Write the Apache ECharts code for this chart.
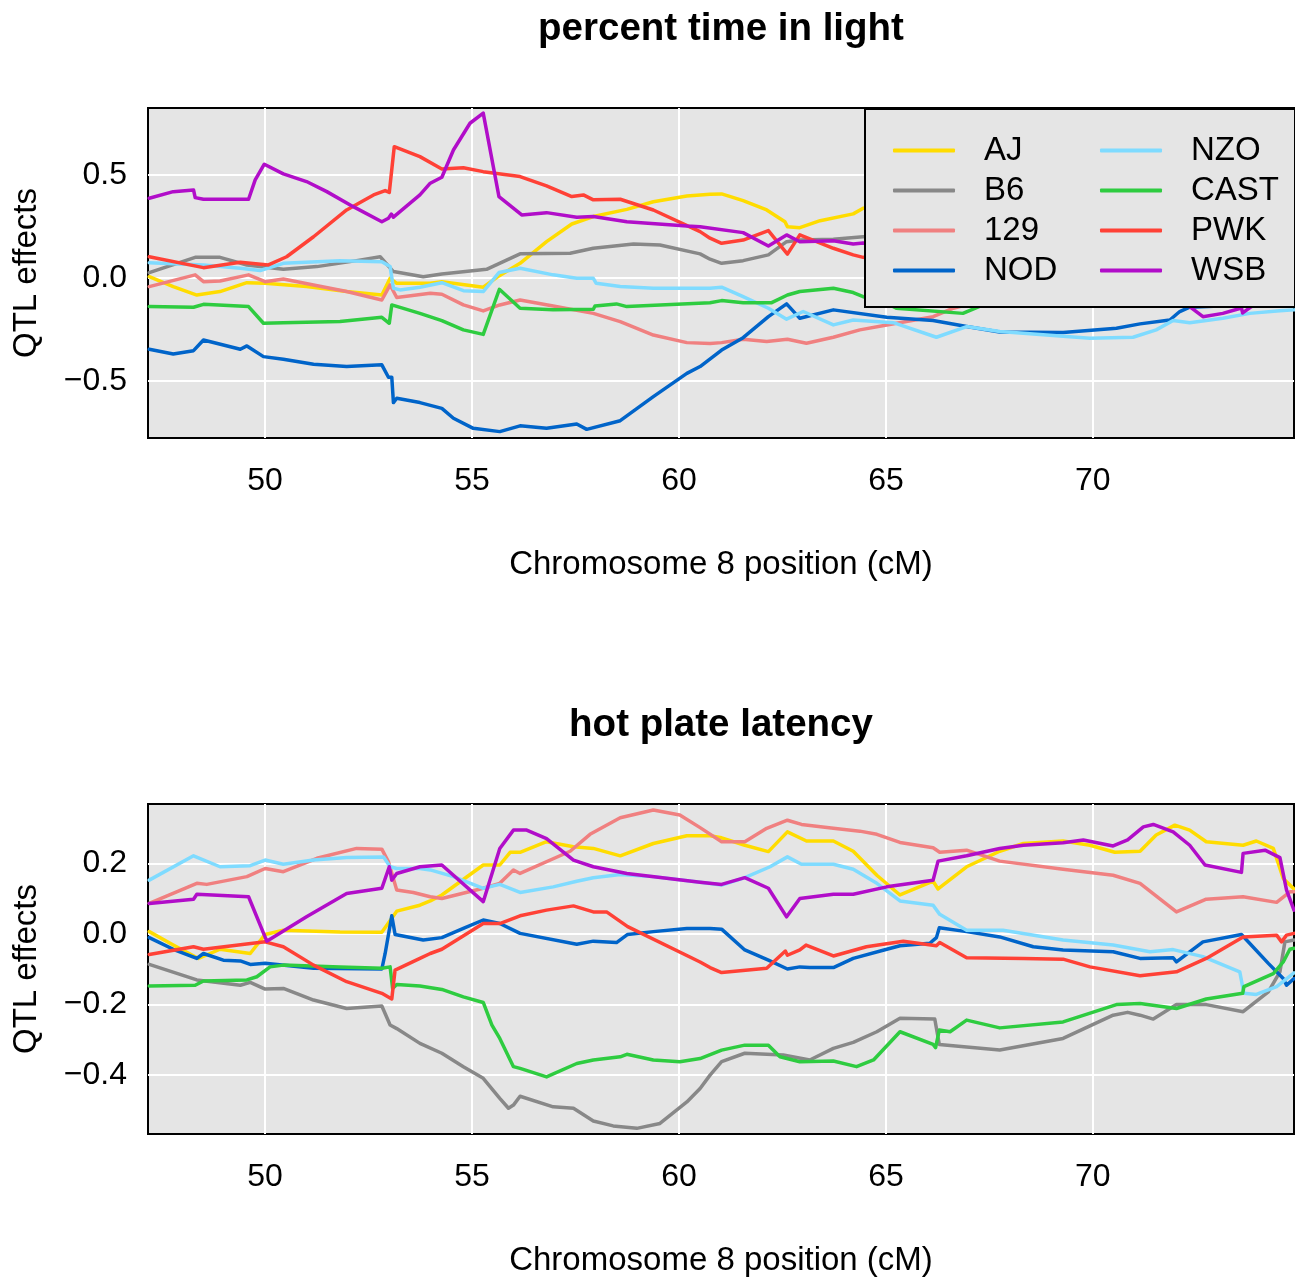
<!DOCTYPE html>
<html>
<head>
<meta charset="utf-8">
<script src="https://cdn.jsdelivr.net/npm/echarts@6/dist/echarts.min.js"></script>
<style>
  html, body { margin: 0; padding: 0; background: #fff; }
  #chart { width: 1295px; height: 1280px; }
</style>
</head>
<body>
<div id="chart"></div>
<script>
// ---------- data (cM, QTL effect) ----------
const strains = ['AJ', 'B6', '129', 'NOD', 'NZO', 'CAST', 'PWK', 'WSB'];
const strainColors = ['#FFDC00', '#888888', '#F08080', '#0064C9', '#7FDBFF', '#2ECC40', '#FF4136', '#B10DC9'];

const panelTitles = ['percent time in light', 'hot plate latency'];
const xTicks = [50, 55, 60, 65, 70];
const yTicksTop = [-0.5, 0, 0.5];
const yTicksBottom = [-0.4, -0.2, 0, 0.2];
const xRange = [47.17, 74.86];
const yRangeTop = [-0.777, 0.825];
const yRangeBottom = [-0.567, 0.369];

// panel 1: percent time in light
const topAJ = [[47.2,0.006],[47.78,-0.042],[48.35,-0.083],[48.91,-0.066],[49.56,-0.023],[50.0,-0.026],[51.0,-0.042],[51.97,-0.066],[52.82,-0.083],[53.02,-0.002],[53.18,-0.026],[53.99,-0.026],[54.27,-0.018],[55.27,-0.045],[55.65,0.01],[56.16,0.071],[56.8,0.176],[57.41,0.262],[57.93,0.298],[58.74,0.333],[59.38,0.37],[60.19,0.398],[60.75,0.406],[61.03,0.408],[61.55,0.375],[62.12,0.33],[62.56,0.273],[62.62,0.249],[62.92,0.244],[63.41,0.278],[64.21,0.311],[64.45,0.338],[65.5,0.37],[67.0,0.36],[68.5,0.3],[70.0,0.25],[71.5,0.22],[73.0,0.2],[74.86,0.18]];
const topB6 = [[47.2,0.026],[48.31,0.1],[48.91,0.1],[49.56,0.063],[50.44,0.042],[51.25,0.055],[52.21,0.084],[52.78,0.103],[53.1,0.031],[53.82,0.006],[54.27,0.019],[55.35,0.042],[56.16,0.117],[57.37,0.12],[57.93,0.144],[58.9,0.165],[59.54,0.16],[60.51,0.117],[60.75,0.091],[61.03,0.071],[61.55,0.084],[62.16,0.112],[62.6,0.176],[62.92,0.184],[63.73,0.188],[64.45,0.2],[66.0,0.21],[68.0,0.17],[70.0,0.12],[72.0,0.08],[74.86,0.05]];
const top129 = [[47.2,-0.042],[48.31,0.015],[48.51,-0.018],[48.91,-0.015],[49.6,0.015],[50.0,-0.018],[50.44,-0.005],[51.17,-0.034],[51.97,-0.066],[52.82,-0.107],[53.02,-0.034],[53.18,-0.095],[53.99,-0.074],[54.27,-0.079],[54.79,-0.131],[55.27,-0.16],[55.67,-0.131],[56.16,-0.107],[56.96,-0.136],[57.93,-0.172],[58.58,-0.212],[59.38,-0.277],[60.19,-0.314],[60.75,-0.318],[61.03,-0.314],[61.55,-0.298],[62.12,-0.309],[62.62,-0.298],[63.08,-0.317],[63.73,-0.288],[64.37,-0.252],[65.02,-0.228],[66.14,-0.188],[66.63,-0.147],[67.5,-0.1],[69.0,-0.06],[71.0,-0.04],[73.0,-0.05],[74.86,-0.06]];
const topNOD = [[47.2,-0.346],[47.78,-0.369],[48.27,-0.353],[48.51,-0.301],[49.4,-0.346],[49.56,-0.33],[49.96,-0.382],[50.44,-0.395],[51.17,-0.419],[51.97,-0.43],[52.82,-0.422],[52.98,-0.482],[53.06,-0.482],[53.1,-0.605],[53.18,-0.584],[53.74,-0.605],[54.27,-0.633],[54.55,-0.681],[55.03,-0.73],[55.67,-0.746],[56.16,-0.718],[56.8,-0.73],[57.53,-0.709],[57.77,-0.735],[58.58,-0.693],[59.38,-0.576],[60.19,-0.463],[60.51,-0.43],[61.03,-0.35],[61.55,-0.29],[62.16,-0.188],[62.6,-0.126],[62.92,-0.196],[63.73,-0.155],[65.02,-0.191],[66.14,-0.207],[66.95,-0.236],[67.75,-0.262],[69.28,-0.265],[70.57,-0.244],[71.14,-0.223],[71.86,-0.204],[72.1,-0.163],[72.34,-0.142],[73.2,-0.135],[74.0,-0.135],[74.57,-0.13],[74.86,-0.128]];
const topNZO = [[47.2,0.074],[48.51,0.063],[49.4,0.047],[49.88,0.036],[50.44,0.071],[51.81,0.083],[52.82,0.079],[53.02,0.055],[53.1,-0.05],[53.26,-0.058],[53.74,-0.045],[54.27,-0.023],[54.79,-0.062],[55.27,-0.066],[55.65,0.026],[56.16,0.047],[56.96,0.015],[57.53,-0.002],[57.93,-0.002],[58.0,-0.026],[58.58,-0.042],[59.38,-0.05],[60.75,-0.05],[61.03,-0.045],[61.55,-0.091],[62.16,-0.147],[62.6,-0.2],[63.0,-0.163],[63.73,-0.228],[64.21,-0.204],[65.18,-0.217],[66.22,-0.288],[66.95,-0.236],[67.75,-0.26],[69.93,-0.293],[70.97,-0.288],[71.53,-0.252],[71.94,-0.207],[72.34,-0.217],[73.14,-0.196],[73.79,-0.172],[74.52,-0.159],[74.86,-0.155]];
const topCAST = [[47.2,-0.139],[48.27,-0.142],[48.51,-0.128],[49.6,-0.139],[49.96,-0.22],[50.44,-0.217],[51.81,-0.212],[52.82,-0.191],[53.0,-0.22],[53.06,-0.131],[53.74,-0.172],[54.27,-0.207],[54.79,-0.252],[55.27,-0.274],[55.66,-0.055],[56.16,-0.147],[56.96,-0.155],[57.93,-0.152],[57.97,-0.136],[58.49,-0.126],[58.74,-0.139],[60.75,-0.12],[61.03,-0.11],[61.55,-0.12],[62.24,-0.12],[62.62,-0.083],[62.92,-0.066],[63.73,-0.05],[64.21,-0.071],[64.45,-0.091],[64.9,-0.11],[65.25,-0.147],[66.86,-0.172],[67.35,-0.131],[68.5,-0.1],[70.0,-0.09],[72.0,-0.08],[74.86,-0.06]];
const topPWK = [[47.2,0.103],[48.51,0.05],[49.4,0.076],[50.08,0.063],[50.52,0.103],[51.17,0.2],[51.97,0.33],[52.62,0.403],[52.9,0.424],[53.0,0.415],[53.12,0.637],[53.74,0.589],[54.27,0.529],[54.79,0.535],[55.27,0.516],[56.16,0.492],[56.8,0.447],[57.41,0.395],[57.69,0.403],[57.93,0.379],[58.58,0.382],[59.38,0.33],[60.51,0.225],[60.75,0.193],[61.03,0.168],[61.55,0.184],[62.16,0.23],[62.62,0.116],[62.92,0.209],[63.73,0.144],[64.21,0.112],[64.45,0.1],[66.0,0.06],[68.0,0.02],[70.0,0.0],[72.0,0.02],[74.86,0.05]];
const topWSB = [[47.2,0.387],[47.78,0.419],[48.27,0.427],[48.31,0.39],[48.51,0.382],[49.6,0.382],[49.76,0.476],[49.98,0.552],[50.44,0.505],[51.0,0.468],[51.49,0.419],[52.13,0.346],[52.82,0.273],[52.98,0.29],[53.05,0.31],[53.1,0.295],[53.74,0.403],[53.99,0.46],[54.27,0.489],[54.55,0.621],[54.95,0.751],[55.27,0.8],[55.65,0.395],[56.2,0.306],[56.8,0.317],[57.53,0.295],[57.93,0.298],[58.74,0.273],[60.19,0.252],[60.51,0.249],[61.55,0.22],[62.16,0.155],[62.6,0.209],[62.92,0.176],[63.73,0.181],[64.21,0.165],[64.45,0.17],[66.0,0.12],[68.0,0.06],[70.0,0.0],[71.5,-0.06],[72.34,-0.139],[72.66,-0.188],[73.14,-0.172],[73.59,-0.146],[73.62,-0.17],[73.83,-0.139],[74.3,-0.12],[74.86,-0.1]];

// panel 2: hot plate latency
const botAJ = [[47.2,0.007],[47.78,-0.031],[48.39,-0.069],[48.91,-0.043],[49.64,-0.055],[50.0,-0.001],[50.44,0.011],[51.81,0.006],[52.82,0.005],[53.18,0.065],[53.74,0.082],[53.99,0.094],[54.27,0.111],[55.27,0.196],[55.67,0.196],[55.92,0.232],[56.16,0.232],[56.8,0.262],[57.45,0.248],[57.93,0.243],[58.58,0.222],[59.38,0.257],[60.19,0.279],[60.75,0.279],[61.03,0.273],[61.59,0.252],[62.16,0.234],[62.62,0.29],[63.08,0.264],[63.73,0.264],[64.21,0.235],[64.78,0.167],[65.34,0.111],[66.14,0.15],[66.26,0.128],[66.95,0.191],[67.75,0.235],[68.32,0.257],[69.28,0.264],[69.93,0.252],[70.53,0.232],[71.14,0.235],[71.53,0.281],[71.98,0.309],[72.34,0.295],[72.74,0.262],[73.63,0.252],[73.95,0.264],[74.36,0.243],[74.6,0.158],[74.86,0.128]];
const botB6 = [[47.2,-0.086],[48.35,-0.13],[49.4,-0.145],[49.64,-0.137],[50.0,-0.156],[50.44,-0.154],[51.17,-0.187],[51.97,-0.211],[52.82,-0.204],[53.02,-0.258],[53.18,-0.268],[53.74,-0.31],[54.27,-0.338],[54.79,-0.376],[55.27,-0.409],[55.67,-0.466],[55.88,-0.494],[56.0,-0.485],[56.16,-0.46],[56.96,-0.49],[57.45,-0.494],[57.93,-0.53],[58.41,-0.544],[58.98,-0.551],[59.54,-0.537],[60.19,-0.476],[60.51,-0.438],[60.75,-0.4],[61.03,-0.362],[61.59,-0.338],[62.52,-0.343],[63.16,-0.357],[63.73,-0.324],[64.21,-0.307],[64.78,-0.277],[65.34,-0.239],[66.18,-0.241],[66.29,-0.313],[66.95,-0.32],[67.75,-0.329],[69.28,-0.296],[70.49,-0.23],[70.84,-0.222],[71.14,-0.23],[71.46,-0.241],[72.02,-0.2],[72.74,-0.2],[73.63,-0.22],[74.24,-0.164],[74.52,-0.107],[74.64,-0.022],[74.86,-0.017]];
const bot129 = [[47.2,0.087],[48.35,0.144],[48.59,0.141],[49.56,0.163],[50.0,0.186],[50.44,0.177],[51.25,0.215],[52.21,0.243],[52.82,0.241],[52.98,0.205],[53.18,0.125],[53.58,0.118],[53.99,0.106],[54.27,0.101],[55.27,0.13],[55.67,0.144],[56.0,0.182],[56.16,0.172],[57.37,0.235],[57.85,0.283],[58.58,0.33],[59.38,0.352],[60.02,0.338],[60.51,0.302],[61.03,0.262],[61.59,0.262],[62.12,0.3],[62.62,0.323],[62.96,0.311],[63.73,0.3],[64.37,0.292],[64.78,0.283],[65.34,0.26],[66.14,0.245],[66.3,0.232],[66.95,0.238],[67.75,0.207],[69.28,0.184],[70.49,0.167],[71.14,0.144],[72.02,0.063],[72.74,0.099],[73.63,0.106],[74.44,0.09],[74.76,0.12],[74.86,0.12]];
const botNOD = [[47.2,-0.01],[47.78,-0.043],[48.35,-0.069],[48.51,-0.055],[48.99,-0.074],[49.4,-0.076],[49.64,-0.086],[50.0,-0.083],[51.17,-0.097],[52.82,-0.099],[52.9,-0.055],[53.06,0.052],[53.14,-0.001],[53.82,-0.017],[54.27,-0.01],[54.79,0.016],[55.27,0.04],[55.67,0.03],[56.16,0.002],[57.53,-0.029],[57.93,-0.02],[58.49,-0.024],[58.76,-0.001],[59.38,0.007],[60.19,0.016],[60.75,0.016],[61.03,0.014],[61.59,-0.045],[62.16,-0.074],[62.62,-0.099],[62.92,-0.093],[63.16,-0.095],[63.73,-0.095],[64.21,-0.069],[65.02,-0.043],[65.34,-0.033],[66.06,-0.026],[66.22,-0.01],[66.29,0.018],[66.95,0.007],[67.75,-0.008],[68.56,-0.036],[69.28,-0.045],[70.49,-0.05],[71.14,-0.069],[71.94,-0.067],[72.02,-0.079],[72.66,-0.022],[73.59,-0.001],[74.24,-0.083],[74.6,-0.126],[74.68,-0.145],[74.86,-0.126]];
const botNZO = [[47.2,0.153],[48.27,0.222],[48.91,0.191],[49.64,0.194],[50.0,0.21],[50.44,0.198],[51.17,0.21],[51.97,0.217],[52.86,0.219],[53.02,0.191],[53.18,0.186],[53.74,0.186],[53.99,0.182],[54.55,0.163],[55.27,0.13],[55.67,0.141],[56.16,0.118],[56.96,0.134],[57.53,0.15],[57.93,0.16],[58.58,0.169],[59.38,0.163],[60.51,0.147],[61.03,0.139],[61.59,0.16],[62.2,0.191],[62.62,0.219],[62.96,0.198],[63.73,0.198],[64.21,0.184],[64.78,0.144],[65.34,0.094],[66.14,0.082],[66.3,0.056],[66.95,0.011],[67.83,0.011],[69.28,-0.017],[70.49,-0.031],[71.38,-0.05],[71.94,-0.044],[72.66,-0.064],[73.55,-0.107],[73.65,-0.168],[73.95,-0.171],[74.44,-0.149],[74.86,-0.11]];
const botCAST = [[47.2,-0.147],[48.31,-0.145],[48.51,-0.133],[49.56,-0.13],[49.8,-0.121],[50.12,-0.093],[50.44,-0.088],[51.81,-0.093],[52.82,-0.097],[53.02,-0.093],[53.08,-0.154],[53.18,-0.143],[53.74,-0.147],[54.27,-0.157],[54.79,-0.178],[55.27,-0.194],[55.48,-0.258],[55.67,-0.296],[56.0,-0.376],[56.16,-0.381],[56.8,-0.405],[57.53,-0.367],[57.93,-0.357],[58.58,-0.348],[58.74,-0.341],[59.38,-0.357],[60.02,-0.362],[60.51,-0.353],[61.03,-0.329],[61.59,-0.315],[62.16,-0.315],[62.44,-0.348],[62.92,-0.362],[63.73,-0.36],[64.29,-0.376],[64.7,-0.357],[65.34,-0.277],[66.14,-0.313],[66.2,-0.322],[66.29,-0.272],[66.55,-0.277],[66.95,-0.244],[67.75,-0.266],[69.28,-0.249],[70.57,-0.2],[71.14,-0.197],[72.02,-0.211],[72.74,-0.184],[73.62,-0.168],[73.65,-0.149],[74.36,-0.112],[74.6,-0.079],[74.76,-0.043],[74.86,-0.04]];
const botPWK = [[47.2,-0.058],[48.27,-0.036],[48.51,-0.043],[50.0,-0.022],[50.44,-0.036],[51.17,-0.088],[51.97,-0.135],[52.82,-0.168],[53.06,-0.184],[53.14,-0.102],[53.74,-0.069],[53.99,-0.055],[54.27,-0.043],[55.27,0.03],[55.67,0.03],[56.16,0.052],[56.8,0.068],[57.45,0.08],[57.93,0.063],[58.25,0.063],[58.76,0.021],[60.51,-0.079],[60.75,-0.095],[61.03,-0.109],[62.12,-0.097],[62.57,-0.048],[62.62,-0.06],[62.92,-0.045],[63.07,-0.031],[63.73,-0.062],[64.53,-0.036],[65.42,-0.02],[66.22,-0.033],[66.3,-0.024],[66.95,-0.067],[68.32,-0.069],[69.28,-0.071],[69.93,-0.093],[71.14,-0.118],[72.02,-0.107],[72.74,-0.069],[73.63,-0.008],[74.44,-0.003],[74.56,-0.022],[74.68,-0.003],[74.86,0.002]];
const botWSB = [[47.2,0.087],[48.27,0.099],[48.35,0.113],[49.6,0.106],[50.04,-0.02],[51.0,0.049],[51.97,0.115],[52.82,0.13],[53.0,0.191],[53.06,0.153],[53.18,0.172],[53.74,0.191],[54.27,0.196],[55.27,0.092],[55.67,0.243],[56.0,0.295],[56.32,0.295],[56.8,0.271],[57.45,0.21],[57.93,0.191],[58.74,0.172],[60.51,0.147],[61.03,0.141],[61.59,0.16],[62.16,0.13],[62.6,0.049],[62.92,0.101],[63.73,0.113],[64.21,0.113],[65.02,0.134],[66.14,0.153],[66.26,0.207],[66.95,0.222],[67.75,0.243],[68.32,0.252],[69.28,0.259],[69.77,0.267],[70.49,0.25],[70.84,0.267],[71.22,0.304],[71.46,0.311],[71.94,0.29],[72.34,0.252],[72.71,0.196],[73.59,0.175],[73.63,0.229],[74.16,0.238],[74.52,0.217],[74.68,0.125],[74.86,0.068]];

const topData = [topAJ, topB6, top129, topNOD, topNZO, topCAST, topPWK, topWSB];
const botData = [botAJ, botB6, bot129, botNOD, botNZO, botCAST, botPWK, botWSB];

// ---------- chart ----------
const FONT = '"Liberation Sans", Arial, Helvetica, sans-serif';
const fmtY = v => (v < 0 ? '\u2212' : '') + Math.abs(v).toFixed(1);

function makeX(gridIndex) {
  return {
    type: 'value', gridIndex, min: xRange[0], max: xRange[1],
    name: 'Chromosome 8 position (cM)', nameLocation: 'middle', nameGap: 110,
    nameTextStyle: { fontFamily: FONT, fontSize: 33, color: '#000' },
    axisLine: { show: false },
    axisTick: { show: false, customValues: xTicks },
    axisLabel: { customValues: xTicks, margin: 27, fontFamily: FONT, fontSize: 32, color: '#000' },
    splitLine: { show: true, lineStyle: { color: '#ffffff', width: 2 } }
  };
}
function makeY(gridIndex, range, ticks) {
  return {
    type: 'value', gridIndex, min: range[0], max: range[1],
    name: 'QTL effects', nameLocation: 'middle', nameGap: 105, nameRotate: 90,
    nameTextStyle: { fontFamily: FONT, fontSize: 33, color: '#000' },
    axisLine: { show: false },
    axisTick: { show: false, customValues: ticks },
    axisLabel: { customValues: ticks, margin: 21, fontFamily: FONT, fontSize: 32, color: '#000', formatter: fmtY },
    splitLine: { show: true, lineStyle: { color: '#ffffff', width: 2 } }
  };
}

const series = [];
[topData, botData].forEach((panel, p) => {
  panel.forEach((d, i) => {
    series.push({
      name: strains[i], type: 'line', xAxisIndex: p, yAxisIndex: p,
      data: d, showSymbol: false, symbol: 'none', smooth: false,
      lineStyle: { color: strainColors[i], width: 3.5, cap: 'round', join: 'round' },
      itemStyle: { color: strainColors[i] },
      clip: true, z: 2
    });
  });
});

function makeLegend(names, left) {
  return {
    data: names, orient: 'vertical', left, top: 134, padding: 0,
    itemWidth: 62, itemHeight: 4, itemGap: 7, icon: 'roundRect',
    selectedMode: false, z: 10,
    textStyle: { fontFamily: FONT, fontSize: 33, color: '#000', lineHeight: 33, padding: [0, 0, 0, 24] }
  };
}

const chart = echarts.init(document.getElementById('chart'), null, { renderer: 'canvas' });
chart.setOption({
  animation: false,
  backgroundColor: '#ffffff',
  color: strainColors,
  grid: [
    { left: 148, top: 108, width: 1146, height: 330, show: true, backgroundColor: '#e5e5e5', borderColor: '#000', borderWidth: 2 },
    { left: 148, top: 804, width: 1146, height: 330, show: true, backgroundColor: '#e5e5e5', borderColor: '#000', borderWidth: 2 }
  ],
  xAxis: [makeX(0), makeX(1)],
  yAxis: [makeY(0, yRangeTop, yTicksTop), makeY(1, yRangeBottom, yTicksBottom)],
  legend: [makeLegend(strains.slice(0, 4), 893), makeLegend(strains.slice(4), 1100)],
  graphic: [
    { type: 'rect', left: 864, top: 108, z: 9, shape: { width: 430, height: 198 },
      style: { fill: '#e5e5e5', stroke: '#000', lineWidth: 2 } },
    { type: 'text', x: 721, y: 29, z: 10,
      style: { text: panelTitles[0], align: 'center', verticalAlign: 'middle', font: 'bold 38.5px ' + FONT, fill: '#000' } },
    { type: 'text', x: 721, y: 725, z: 10,
      style: { text: panelTitles[1], align: 'center', verticalAlign: 'middle', font: 'bold 38.5px ' + FONT, fill: '#000' } }
  ],
  series
});
</script>
</body>
</html>
